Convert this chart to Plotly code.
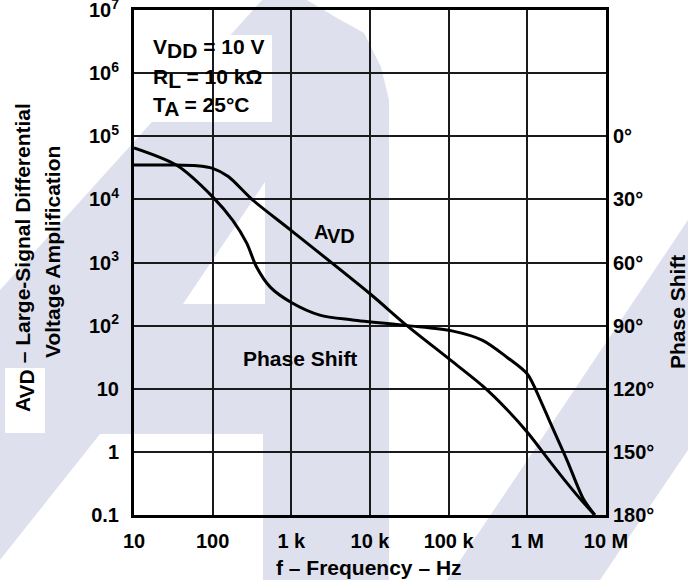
import plotly.graph_objects as go

# ---------------- data ----------------
freq_avd = [10, 31.6, 63, 100, 158, 316, 1000, 10000, 29500, 100000, 270000, 550000,
            1e6, 2e6, 3.2e6, 5.1e6, 7.2e6]
avd = [3.5e4, 3.5e4, 3.4e4, 3.1e4, 2.3e4, 1.0e4, 3.2e3, 320, 100, 30, 11.1, 4.7,
       2.04, 0.67, 0.32, 0.16, 0.1]

freq_phase = [10, 35, 100, 180, 270, 360, 540, 1000, 2300, 6000, 30000, 110000, 270000,
              550000, 1e6, 1.45e6, 1.95e6, 3.2e6, 5.1e6, 7.2e6]
phase_deg = [5.5, 13.8, 28.8, 40, 50.7, 62, 71.7, 79, 85, 87.3, 90, 92.5, 97,
             105, 113, 125, 136, 154, 172, 180]

x_tickvals = [10, 100, 1e3, 1e4, 1e5, 1e6, 1e7]
x_ticktext = ["10", "100", "1 k", "10 k", "100 k", "1 M", "10 M"]
y_tickvals = [0.1, 1, 10, 100, 1e3, 1e4, 1e5, 1e6, 1e7]
y_ticktext = ["0.1", "1", "10", "10<sup>2</sup>", "10<sup>3</sup>", "10<sup>4</sup>",
              "10<sup>5</sup>", "10<sup>6</sup>", "10<sup>7</sup>"]
p_tickvals = [0, 30, 60, 90, 120, 150, 180]
p_ticktext = ["0°", "30°", "60°", "90°", "120°", "150°", "180°"]

# ---------------- layout geometry ----------------
W, H = 688, 580
L, R, T, B = 134, 606, 10, 515
FONT = "Liberation Sans, Arial, sans-serif"
WM = "#dee1ed"
EPS = 1e-4


def px(x):
    return (x - L) / (R - L)


def py(y):
    return (B - y) / (B - T)


def path(pts):
    return "M " + " L ".join(f"{px(a):.5f},{py(b):.5f}" for a, b in pts) + " Z"


def sub(s, size):
    return f'<sub><span style="font-size:{size}px">{s}</span></sub>'


fig = go.Figure()

fig.add_trace(go.Scatter(x=freq_avd, y=avd, mode="lines",
                         line=dict(color="black", width=3, shape="spline", smoothing=0.8),
                         showlegend=False, hoverinfo="skip"))
fig.add_trace(go.Scatter(x=freq_phase, y=phase_deg, mode="lines", yaxis="y2",
                         line=dict(color="black", width=3, shape="spline", smoothing=0.8),
                         showlegend=False, hoverinfo="skip"))

shapes = []
# watermark (background decoration)
main_wm = [(0, 290), (262, 0), (307, 0), (337, 18), (364, 33), (381, 67), (389, 100),
           (389, 580), (263, 580), (263, 434), (100, 434), (0, 560)]
shapes.append(dict(type="path", path=path(main_wm), xref="paper", yref="paper",
                   fillcolor=WM, line=dict(width=0), layer="below"))
shapes.append(dict(type="path", path=path([(183, 304), (265, 182), (265, 304)]),
                   xref="paper", yref="paper", fillcolor="white", line=dict(width=0), layer="below"))
shapes.append(dict(type="path", path=path([(5, 368), (45, 368), (45, 433), (5, 433)]),
                   xref="paper", yref="paper", fillcolor="white", line=dict(width=0), layer="below"))
shapes.append(dict(type="path", path=path([(447, 580), (688, 220), (688, 450), (600, 580)]),
                   xref="paper", yref="paper", fillcolor=WM, line=dict(width=0), layer="below"))
# masks behind labels (hide grid lines)
shapes.append(dict(type="rect", xref="paper", yref="paper", x0=px(136), x1=px(272),
                   y0=py(122), y1=py(35), fillcolor="white", line=dict(width=0), layer="between"))
shapes.append(dict(type="rect", xref="paper", yref="paper", x0=px(240), x1=px(360),
                   y0=py(376), y1=py(340), fillcolor=WM, line=dict(width=0), layer="between"))

tf = dict(family=FONT, size=20, color="black", weight="bold")

annotations = []


def ann(text, x, y, xanchor="center", angle=0, size=20):
    annotations.append(dict(text=text, x=px(x), y=py(y), xref="paper", yref="paper",
                            showarrow=False, xanchor=xanchor, yanchor="middle",
                            textangle=angle,
                            font=dict(family=FONT, size=size, color="black", weight="bold")))


ann("V" + sub("DD", 21) + " = 10 V", 151, 49, xanchor="left", size=21)
ann("R" + sub("L", 21) + " = 10 kΩ", 151, 78, xanchor="left", size=21)
ann("T" + sub("A", 21) + " = 25°C", 151, 107, xanchor="left", size=21)
ann("A" + sub("VD", 20), 334, 234, size=20)
ann("Phase Shift", 300, 358, size=21)
ann("f – Frequency – Hz", 369, 567, size=21)
ann("A" + sub("VD", 21) + " – Large-Signal Differential", 24, 258, angle=-90, size=21)
ann("Voltage Amplification", 52, 252, angle=-90, size=21)
ann("Phase Shift", 677, 312, angle=-90, size=21)

common = dict(ticks="", tickfont=tf, zeroline=False, ticklabeloverflow="allow", automargin=False)

fig.update_layout(
    width=W, height=H,
    margin=dict(l=L, r=W - R, t=T, b=H - B, pad=0, autoexpand=False),
    paper_bgcolor="white", plot_bgcolor="rgba(0,0,0,0)",
    showlegend=False,
    shapes=shapes, annotations=annotations,
    xaxis=dict(type="log", range=[1 - EPS, 7 + EPS], tickvals=x_tickvals, ticktext=x_ticktext,
               showgrid=True, gridcolor="#1a1a1a", gridwidth=1.5,
               showline=True, linecolor="black", linewidth=3, mirror=True,
               ticklabelstandoff=6, **common),
    yaxis=dict(type="log", range=[-1 - EPS, 7 + EPS], tickvals=y_tickvals, ticktext=y_ticktext,
               showgrid=True, gridcolor="#1a1a1a", gridwidth=1.5,
               showline=True, linecolor="black", linewidth=3, mirror=True,
               ticklabelstandoff=8, **common),
    yaxis2=dict(overlaying="y", side="right", range=[180 + 30 * EPS, -60 - 30 * EPS],
                tickvals=p_tickvals, ticktext=p_ticktext, showgrid=False, showline=False,
                ticklabelstandoff=6, **common),
)

fig.write_html("out.html", config={"displayModeBar": False},
               post_script="document.body.style.margin='0px';")
